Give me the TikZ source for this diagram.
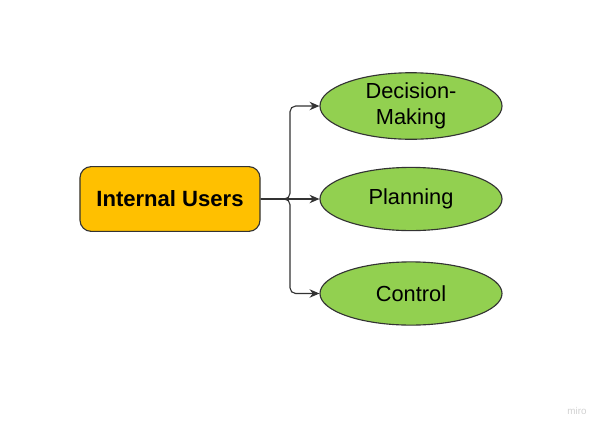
\documentclass[tikz,border=0pt]{standalone}
\usepackage{fontspec}
\setmainfont{Liberation Sans}
\definecolor{usramber}{RGB}{255,192,0}
\definecolor{usrgreen}{RGB}{146,208,80}
\definecolor{usrline}{RGB}{51,51,51}
\usetikzlibrary{arrows.meta,positioning,shapes.geometric}

\begin{document}
\begin{tikzpicture}[
  x=0.025cm, y=-0.025cm,
  every node/.style={font=\fontsize{15.5}{18}\selectfont},
  userbox/.style={draw=usrline,fill=usramber,rounded corners=8pt,line width=0.8pt,
                  minimum width=4.5cm,minimum height=1.62cm,align=center,
                  font=\fontsize{15.7}{18}\selectfont\bfseries},
  useoval/.style={ellipse,draw=usrline,fill=usrgreen,line width=0.8pt,
                  minimum width=4.55cm,minimum height=1.58cm,inner sep=0pt,align=center},
  link/.style={-{Stealth[length=7pt,width=6pt]},usrline,line width=0.8pt,rounded corners=4pt},
]
  \useasboundingbox (0,0) rectangle (600,429);

  % Source box
  \node[userbox] (iu) at (170,199) {Internal Users};

  % Uses
  \node[useoval] (dm) at (411,106) {Decision-\\[1pt]Making};
  \node[useoval] (pl) at (411,199) {Planning};
  \node[useoval] (ct) at (411,293.5) {Control};

  % Fork
  \coordinate (fk) at (290,199);
  \draw[link] (iu.east) -- (fk) |- (dm.west);
  \draw[link] (iu.east) -- (pl.west);
  \draw[link] (iu.east) -- (fk) |- (ct.west);

  % Watermark
  \node[font=\fontsize{7}{8}\selectfont,text=black!18] (wm) at (577,411) {miro};
\end{tikzpicture}
\end{document}
